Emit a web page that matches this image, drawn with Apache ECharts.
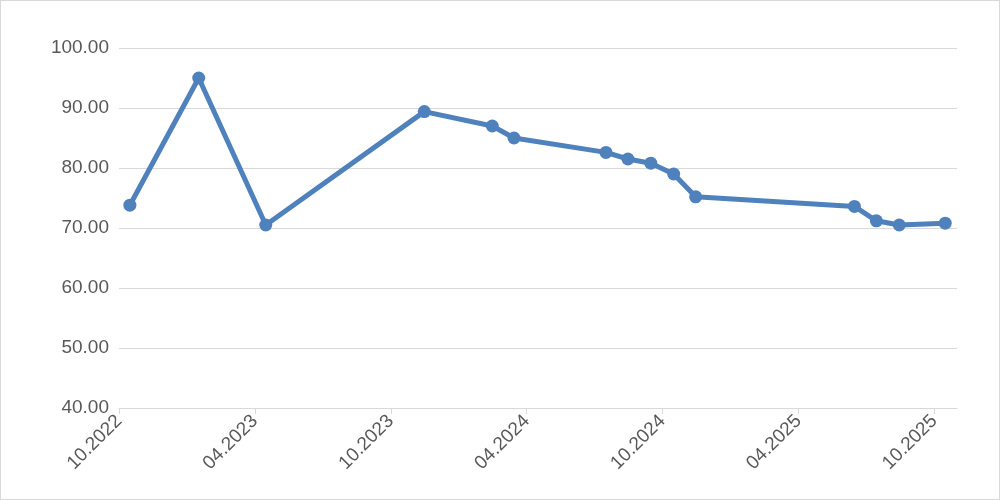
<!DOCTYPE html>
<html><head><meta charset="utf-8">
<script src="https://cdn.jsdelivr.net/npm/echarts@6/dist/echarts.min.js"></script>
<style>html,body{margin:0;padding:0;background:#fff}#c{width:998px;height:498px;border:1px solid #d9d9d9}</style>
</head><body><div id="c"></div>
<script>
// x = months since Oct 2022
const monthsSinceOct2022 = [0.48,3.52,6.48,13.48,16.48,17.44,21.5,22.47,23.48,24.49,25.46,32.47,33.44,34.45,36.48];
const values = [73.8,95.0,70.5,89.4,87.0,85.0,82.6,81.5,80.8,79.0,75.2,73.6,71.2,70.5,70.8];
const tickLabels = ['10.2022','04.2023','10.2023','04.2024','10.2024','04.2025','10.2025'];
const chart = echarts.init(document.getElementById('c'));
chart.setOption({
  animation:false,
  grid:{left:118,right:42,top:47,bottom:91},
  xAxis:{type:'value',min:0,max:37,interval:6,
    axisLine:{lineStyle:{color:'#d9d9d9',width:1}},
    axisTick:{show:true,length:6,lineStyle:{color:'#d9d9d9'}},
    splitLine:{show:false},
    axisLabel:{showMaxLabel:false,rotate:45,color:'#595959',fontSize:19,fontFamily:'Liberation Sans Narrow, Liberation Sans',margin:10,
      formatter:v=>tickLabels[Math.round(v/6)]||''}},
  yAxis:{type:'value',min:40,max:100,interval:10,
    axisLine:{show:false},axisTick:{show:false},
    splitLine:{lineStyle:{color:'#d9d9d9'}},
    axisLabel:{color:'#595959',fontSize:19,fontFamily:'Liberation Sans Narrow, Liberation Sans',margin:10,formatter:v=>v.toFixed(2)}},
  series:[{type:'line',data:monthsSinceOct2022.map((m,i)=>[m,values[i]]),
    symbol:'circle',symbolSize:13,
    lineStyle:{color:'#4f81bd',width:5},itemStyle:{color:'#4f81bd'}}]
});
</script></body></html>
